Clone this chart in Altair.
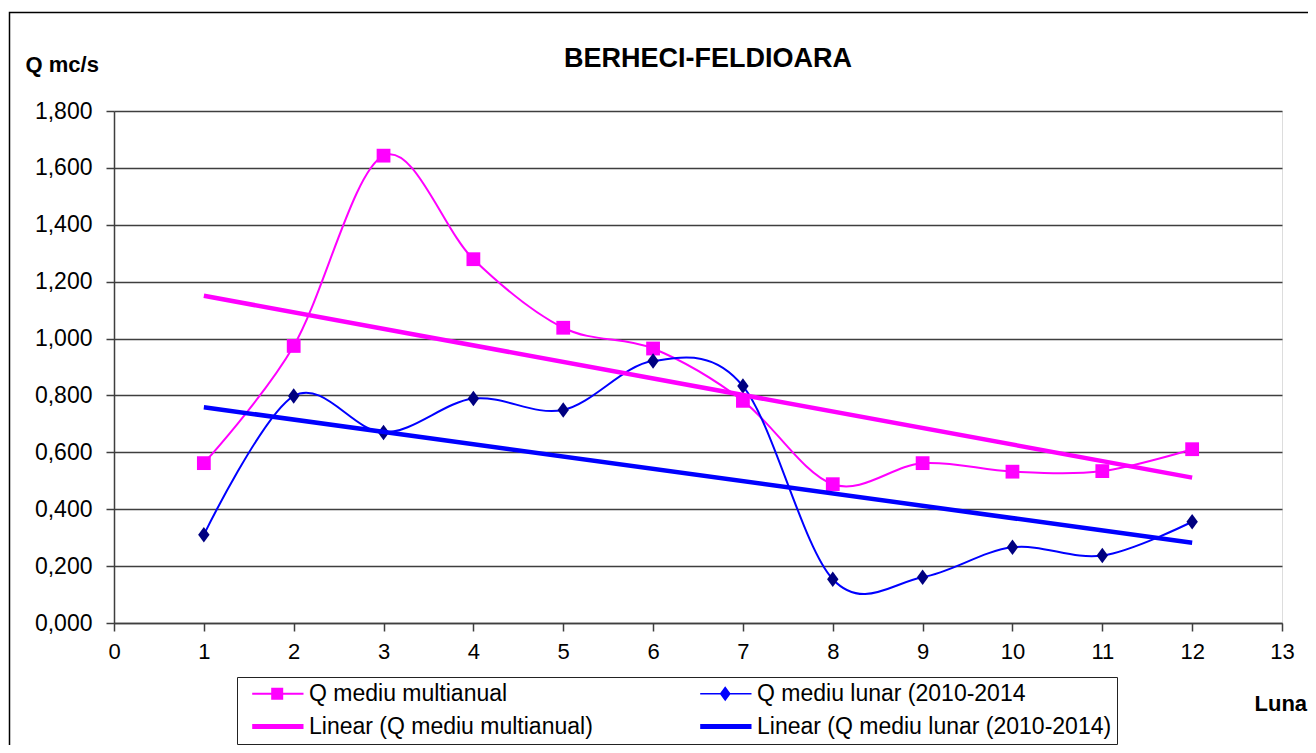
import altair as alt
import pandas as pd

# ---------------- data ----------------
months = list(range(1, 13))
q_multianual = [0.562, 0.974, 1.643, 1.279, 1.038, 0.965, 0.781, 0.488, 0.562, 0.532, 0.534, 0.611]
q_lunar = [0.310, 0.798, 0.670, 0.789, 0.749, 0.921, 0.833, 0.154, 0.161, 0.266, 0.237, 0.356]

name_multi = "Q mediu multianual"
name_lunar = "Q mediu lunar (2010-2014"
# legend order (filled column by column)
legend_labels = [name_multi, "Linear (Q mediu multianual)",
                 name_lunar, "Linear (Q mediu lunar (2010-2014)"]

x_ticks = list(range(0, 14))
y_ticks = [0.0, 0.2, 0.4, 0.6, 0.8, 1.0, 1.2, 1.4, 1.6, 1.8]

# ---------------- styling ----------------
FONT = "Liberation Sans"
MAGENTA = "#FF00FF"
BLUE = "#0000FF"
NAVY = "#000080"
GRID = "#3f3f3f"

W, H = 1168, 512

df_multi = pd.DataFrame({"month": months, "value": q_multianual})
df_lunar = pd.DataFrame({"month": months, "value": q_lunar})

x_enc = alt.X("month:Q",
              scale=alt.Scale(domain=[0, 13], nice=False, zero=False),
              axis=alt.Axis(values=x_ticks, format="d", title="Luna",
                            grid=False, labelFontSize=22, labelFont=FONT,
                            labelColor="black", labelPadding=10,
                            tickSize=8, tickColor=GRID, domainColor=GRID,
                            domainWidth=1.5, tickWidth=1.5,
                            titleFont=FONT, titleFontSize=22, titleFontWeight="bold",
                            titleColor="black", titleAlign="left",
                            titleBaseline="alphabetic", titleX=1140, titleY=87,
                            labelFlush=False))
y_enc = alt.Y("value:Q",
              scale=alt.Scale(domain=[0, 1.8], nice=False, zero=True),
              axis=alt.Axis(values=y_ticks,
                            labelExpr="replace(format(datum.value, '.3f'), '.', ',')",
                            title="Q mc/s", titleAngle=0, titleAlign="left",
                            titleBaseline="alphabetic", titleX=-89, titleY=-40,
                            titleFont=FONT, titleFontSize=22, titleFontWeight="bold",
                            titleColor="black",
                            grid=True, gridColor=GRID, gridWidth=1.5,
                            labelFontSize=23, labelFont=FONT, labelColor="black",
                            labelPadding=14, tickSize=8, tickColor=GRID,
                            tickWidth=1.5, domainColor=GRID, domainWidth=1.5,
                            labelFlush=False))

diamond_path = "M0,-1.15L0.85,0L0,1.15L-0.85,0Z"

layers = []

# outer chart frame (decoration)
frame = alt.Chart(alt.Data(values=[{"f": 1}])).mark_rect(
    filled=False, stroke="black", strokeWidth=1.5
).encode(x=alt.value(-104.5), x2=alt.value(1400), y=alt.value(-98.5), y2=alt.value(800))
layers.append(frame)

series = [
    (df_multi, MAGENTA, MAGENTA, "square", 190),
    (df_lunar, BLUE, NAVY, diamond_path, 180),
]

# smoothed series lines + markers
for df, lc, mc, shp, sz in series:
    base = alt.Chart(df)
    layers.append(base.mark_line(interpolate="cardinal", color=lc, strokeWidth=2)
                  .encode(x=x_enc, y=y_enc))
    layers.append(base.mark_point(shape=shp, filled=True, size=sz, color=mc, opacity=1)
                  .encode(x=x_enc, y=y_enc))

# linear trend lines
for df, lc, mc, shp, sz in series:
    layers.append(alt.Chart(df)
                  .transform_regression("month", "value", method="linear", extent=[1, 12])
                  .mark_line(color=lc, strokeWidth=4.5)
                  .encode(x=x_enc, y=y_enc))

# legend (built from scale domain of an empty layer)
sym_sq = "M-0.13,-0.1H5V0.1H-0.13Z M1.77,-0.6H2.97V0.6H1.77Z"
sym_di = "M-0.13,-0.08H5V0.08H-0.13Z M2.37,-0.75L2.92,0L2.37,0.75L1.82,0Z"
sym_th = "M-0.13,-0.25H5V0.25H-0.13Z"
legend_colors = [MAGENTA, MAGENTA, BLUE, BLUE]
legend_shapes = [sym_sq, sym_th, sym_di, sym_th]

leg = alt.Legend(title=None, orient="none", legendX=123, legendY=566,
                 columns=2, columnPadding=97, rowPadding=9,
                 symbolSize=400, symbolStrokeWidth=0, labelOffset=44,
                 labelFont=FONT, labelFontSize=23, labelColor="black",
                 labelLimit=600, padding=5, strokeColor="#222",
                 fillColor="white")

legend_layer = alt.Chart(pd.DataFrame({"label": legend_labels})).transform_filter(
    "false"
).mark_point(filled=True, opacity=1, size=400).encode(
    color=alt.Color("label:N", scale=alt.Scale(domain=legend_labels, range=legend_colors), legend=leg),
    shape=alt.Shape("label:N", scale=alt.Scale(domain=legend_labels, range=legend_shapes), legend=leg),
)
layers.append(legend_layer)

chart = alt.layer(*layers).properties(
    width=W, height=H,
    autosize=alt.AutoSizeParams(type="none"),
    padding={"left": 106, "top": 103, "right": 26, "bottom": 122},
    title=alt.TitleParams("BERHECI-FELDIOARA", font=FONT, fontSize=27, fontWeight="bold",
                          color="black", anchor="middle", frame="group",
                          baseline="alphabetic", offset=-81.75, dx=10),
).configure_view(stroke=GRID, strokeWidth=1.5).configure(background="white")

chart.save("out.html", embed_options={"renderer": "svg", "actions": False})
